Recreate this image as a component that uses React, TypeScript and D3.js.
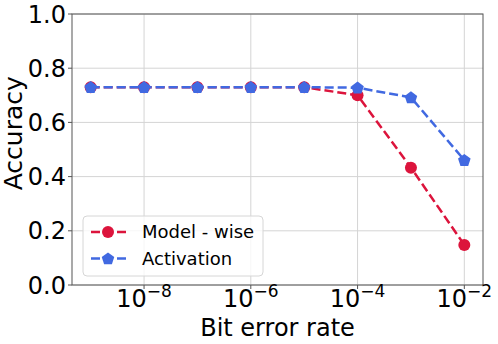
import React, { useEffect, useRef } from 'react';
import * as d3 from 'd3';

const bitErrorRates = [1e-9, 1e-8, 1e-7, 1e-6, 1e-5, 1e-4, 1e-3, 1e-2];
const modelWise = [0.73, 0.73, 0.73, 0.73, 0.73, 0.70, 0.433, 0.148];
const activation = [0.73, 0.73, 0.73, 0.73, 0.73, 0.728, 0.692, 0.461];
const xTickExps = [-8, -6, -4, -2];
const yTicks = [0, 0.2, 0.4, 0.6, 0.8, 1.0];

const series = [
  { name: 'Model - wise', values: modelWise, color: '#dc143c', marker: 'circle' },
  { name: 'Activation', values: activation, color: '#4169e1', marker: 'pentagon' },
];

const FONT = 'DejaVu Sans, sans-serif';

const App = () => {
  const svgRef = useRef<SVGSVGElement>(null);

  useEffect(() => {
    const width = 498;
    const height = 344;
    const margin = { top: 14, right: 15, bottom: 59, left: 72 };
    const w = width - margin.left - margin.right;
    const h = height - margin.top - margin.bottom;

    const root = d3.select(svgRef.current)
      .attr('width', width)
      .attr('height', height);
    root.selectAll('*').remove();

    const svg = root.append('g')
      .attr('transform', `translate(${margin.left},${margin.top})`);

    const x = d3.scaleLog()
      .domain([Math.pow(10, -9.35), Math.pow(10, -1.65)])
      .range([0, w]);
    const y = d3.scaleLinear().domain([0, 1]).range([h, 0]);

    // grid
    svg.append('g')
      .selectAll('line')
      .data(xTickExps)
      .enter()
      .append('line')
      .attr('x1', d => x(Math.pow(10, d)))
      .attr('x2', d => x(Math.pow(10, d)))
      .attr('y1', 0)
      .attr('y2', h)
      .attr('stroke', '#d4d4d4')
      .attr('stroke-width', 1);
    svg.append('g')
      .selectAll('line')
      .data(yTicks)
      .enter()
      .append('line')
      .attr('x1', 0)
      .attr('x2', w)
      .attr('y1', d => y(d))
      .attr('y2', d => y(d))
      .attr('stroke', '#d4d4d4')
      .attr('stroke-width', 1);

    // frame
    svg.append('rect')
      .attr('x', 0)
      .attr('y', 0)
      .attr('width', w)
      .attr('height', h)
      .attr('fill', 'none')
      .attr('stroke', '#555')
      .attr('stroke-width', 1);

    // y ticks
    const yAxis = svg.append('g');
    yTicks.forEach(t => {
      yAxis.append('line')
        .attr('x1', -4).attr('x2', 0)
        .attr('y1', y(t)).attr('y2', y(t))
        .attr('stroke', '#555');
      yAxis.append('text')
        .attr('x', -6)
        .attr('y', y(t))
        .attr('dy', '0.36em')
        .attr('text-anchor', 'end')
        .attr('font-family', FONT)
        .attr('font-size', 24)
        .attr('fill', '#000')
        .text(t.toFixed(1));
    });

    // x ticks
    const xAxis = svg.append('g').attr('transform', `translate(0,${h})`);
    xTickExps.forEach(e => {
      const px = x(Math.pow(10, e));
      xAxis.append('line')
        .attr('x1', px).attr('x2', px)
        .attr('y1', 0).attr('y2', 4)
        .attr('stroke', '#555');
      const t = xAxis.append('text')
        .attr('x', px)
        .attr('y', 22)
        .attr('text-anchor', 'middle')
        .attr('font-family', FONT)
        .attr('font-size', 24)
        .attr('fill', '#000');
      t.append('tspan').text('10');
      t.append('tspan')
        .attr('dy', -10)
        .attr('font-size', 17)
        .text(`\u2212${Math.abs(e)}`);
    });

    // axis labels
    svg.append('text')
      .attr('x', w / 2)
      .attr('y', h + 51)
      .attr('text-anchor', 'middle')
      .attr('font-family', FONT)
      .attr('font-size', 24)
      .text('Bit error rate');
    svg.append('text')
      .attr('transform', `translate(${-50},${y(0.56)}) rotate(-90)`)
      .attr('text-anchor', 'middle')
      .attr('font-family', FONT)
      .attr('font-size', 25)
      .text('Accuracy');

    const pentPath = (r: number) => {
      const pts = d3.range(5).map(i => {
        const a = -Math.PI / 2 + (i * 2 * Math.PI) / 5;
        return [r * Math.cos(a), r * Math.sin(a)];
      });
      return 'M' + pts.map(p => p.join(',')).join('L') + 'Z';
    };

    const line = d3.line<number>()
      .x((d, i) => x(bitErrorRates[i]))
      .y(d => y(d));

    const drawMarker = (g: any, kind: string, color: string, cx: number, cy: number) => {
      if (kind === 'circle') {
        g.append('circle')
          .attr('cx', cx).attr('cy', cy).attr('r', 6)
          .attr('fill', color);
      } else {
        g.append('path')
          .attr('d', pentPath(6.6))
          .attr('transform', `translate(${cx},${cy + 0.5})`)
          .attr('fill', color);
      }
    };

    series.forEach(s => {
      const g = svg.append('g');
      g.append('path')
        .datum(s.values)
        .attr('d', line)
        .attr('fill', 'none')
        .attr('stroke', s.color)
        .attr('stroke-width', 2.5)
        .attr('stroke-dasharray', '9,4');
      s.values.forEach((v, i) => drawMarker(g, s.marker, s.color, x(bitErrorRates[i]), y(v)));
    });

    // legend
    const lg = svg.append('g').attr('transform', `translate(${83 - margin.left},${216 - margin.top})`);
    lg.append('rect')
      .attr('width', 180)
      .attr('height', 60)
      .attr('rx', 4)
      .attr('fill', 'rgba(255,255,255,0.8)')
      .attr('stroke', '#d6d6d6');
    series.forEach((s, i) => {
      const cy = 16 + i * 26.5;
      lg.append('line')
        .attr('x1', 8).attr('x2', 43)
        .attr('y1', cy).attr('y2', cy)
        .attr('stroke', s.color)
        .attr('stroke-width', 2.5)
        .attr('stroke-dasharray', '9,4');
      drawMarker(lg, s.marker, s.color, 25, cy);
      lg.append('text')
        .attr('x', 59)
        .attr('y', cy)
        .attr('dy', '0.36em')
        .attr('font-family', FONT)
        .attr('font-size', 18)
        .text(s.name);
    });
  }, []);

  return <svg ref={svgRef} style={{ position: 'absolute', left: 0, top: 0 }}></svg>;
};

export default App;
